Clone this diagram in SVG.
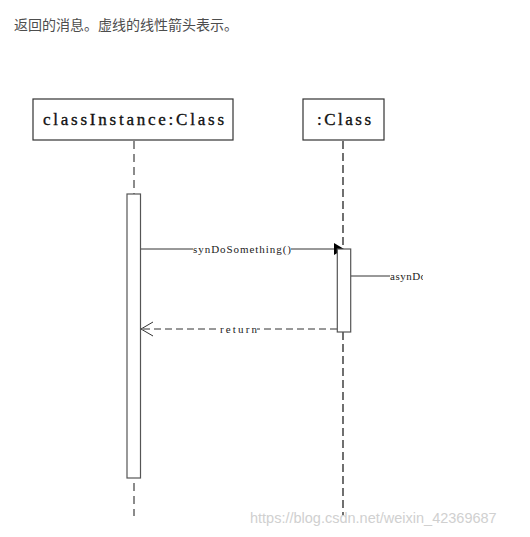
<svg xmlns="http://www.w3.org/2000/svg" width="530" height="537" viewBox="0 0 530 537">
<style>
.box{fill:#fff;stroke:#333;stroke-width:1.2}
.act{fill:#fff;stroke:#555;stroke-width:1.2}
.name{font-family:"Liberation Serif",serif;font-size:17px;fill:#111;stroke:#111;stroke-width:0.35}
.lbl{font-family:"Liberation Serif",serif;font-size:11px;fill:#222}
.msg{stroke:#333;stroke-width:1;fill:none}
</style>
<defs>
<clipPath id="clip"><rect x="0" y="0" width="423" height="537"/></clipPath>
</defs>
<rect width="530" height="537" fill="#fff"/>
<text x="14" y="30" font-family="Noto Sans CJK SC, sans-serif" font-size="14" fill="#4d4d4d">返回的消息。虚线的线性箭头表示。</text>
<g id="connectors">
<line x1="134" y1="141" x2="134" y2="194" stroke="#666" stroke-width="1.5" stroke-dasharray="8,5"/>
<line x1="134" y1="483" x2="134" y2="516" stroke="#666" stroke-width="1.5" stroke-dasharray="8,5"/>
<line x1="343" y1="141" x2="343" y2="249" stroke="#111" stroke-width="1.2" stroke-dasharray="8,4"/>
<line x1="343" y1="332" x2="343" y2="516" stroke="#111" stroke-width="1.2" stroke-dasharray="8,4"/>
<line class="msg" x1="141" y1="249" x2="335" y2="249"/>
<polygon points="334,243 344,249 334,255" fill="#000"/>
<line class="msg" x1="351" y1="276" x2="390" y2="276"/>
<line class="msg" x1="337" y1="329" x2="142" y2="329" stroke-dasharray="7,4"/>
<polyline class="msg" points="153,322 141,329 153,336"/>
</g>
<g id="node-classInstance">
<rect class="box" x="33" y="99" width="200" height="41"/>
<text class="name" x="43" y="125" textLength="181" lengthAdjust="spacing">classInstance:Class</text>
</g>
<g id="node-class">
<rect class="box" x="303" y="99" width="81" height="41"/>
<text class="name" x="317" y="125" textLength="54" lengthAdjust="spacing">:Class</text>
</g>
<g id="activation-1">
<rect class="act" x="127" y="194" width="13.5" height="284"/>
</g>
<g id="activation-2">
<rect class="act" x="337.3" y="249" width="13.4" height="83"/>
</g>
<g id="labels">
<rect x="193" y="243" width="98" height="12" fill="#fff"/>
<text class="lbl" x="193" y="252.5" textLength="98" lengthAdjust="spacing">synDoSomething()</text>
<text class="lbl" x="390" y="279.5" clip-path="url(#clip)" letter-spacing="0.5">asynDo</text>
<rect x="220" y="323" width="37" height="12" fill="#fff"/>
<text class="lbl" x="220" y="332.5" textLength="37" lengthAdjust="spacing">return</text>
</g>
<text x="250" y="523" font-family="Liberation Sans, sans-serif" font-size="14.5" fill="#d0d0d0">https://blog.csdn.net/weixin_42369687</text>
</svg>
